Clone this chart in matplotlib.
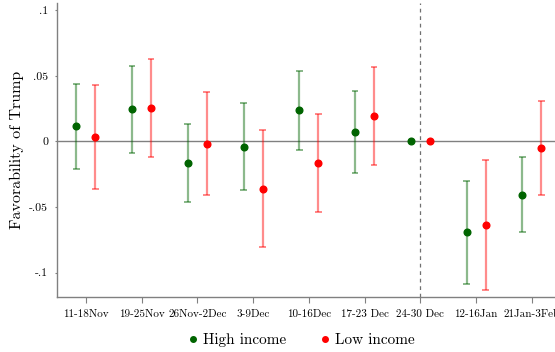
import numpy as np
import matplotlib
matplotlib.use('Agg')
import matplotlib.pyplot as plt
from matplotlib.lines import Line2D

plt.rcParams['font.family'] = ['cmr10', 'DejaVu Serif']
plt.rcParams['axes.unicode_minus'] = False

# semanas
semanas = ['11-18Nov', '19-25Nov', '26Nov-2Dec', '3-9Dec', '10-16Dec',
           '17-23 Dec', '24-30 Dec', '12-16Jan', '21Jan-3Feb']

# ingreso alto
alto = [0.0116, 0.0246, -0.0164, -0.0040, 0.0238, 0.0070, 0.0, -0.0693, -0.0406]
alto_sup = [0.0439, 0.0579, 0.0134, 0.0296, 0.0541, 0.0383, 0.0, -0.0299, -0.0118]
alto_inf = [-0.0208, -0.0090, -0.0464, -0.0373, -0.0067, -0.0240, 0.0, -0.1088, -0.0693]

# ingreso bajo
bajo = [0.0037, 0.0253, -0.0017, -0.0360, -0.0164, 0.0192, 0.0, -0.0635, -0.0052]
bajo_sup = [0.0431, 0.0630, 0.0380, 0.0085, 0.0208, 0.0566, 0.0, -0.0139, 0.0307]
bajo_inf = [-0.0363, -0.0121, -0.0408, -0.0808, -0.0538, -0.0179, 0.0, -0.1131, -0.0406]

y_ticks = [-0.1, -0.05, 0, 0.05, 0.1]
y_labels = ['-.1', '-.05', '0', '.05', '.1']

verde = '#006400'
rojo = '#ff0000'

x = np.arange(1, len(semanas) + 1)
dx = 0.17


def barras(ax, xs, inf, sup, color):
    # intervalos de confianza con topes, sin dibujar los de longitud cero
    xs = np.asarray(xs)
    inf = np.asarray(inf)
    sup = np.asarray(sup)
    m = sup != inf
    ax.vlines(xs[m], inf[m], sup[m], color=color, alpha=0.45, linewidth=1.6, zorder=2)
    ax.hlines(np.r_[inf[m], sup[m]], np.r_[xs[m], xs[m]] - 0.06, np.r_[xs[m], xs[m]] + 0.06,
              color=color, alpha=0.55, linewidth=1.2, zorder=2)


fig = plt.figure(figsize=(5.55, 3.52), dpi=100)
ax = fig.add_axes([57.3 / 555, 1 - 297 / 352, 502 / 555, 294 / 352])

ax.axhline(0, color='#808080', linewidth=1.0, zorder=1)
ax.axvline(7, color='#707070', linewidth=0.9, linestyle=(0, (3, 3)), zorder=1)

barras(ax, x - dx, alto_inf, alto_sup, verde)
barras(ax, x + dx, bajo_inf, bajo_sup, rojo)

ax.plot(x - dx, alto, 'o', color=verde, markersize=4.8, zorder=3)
ax.plot(x + dx, bajo, 'o', color=rojo, markersize=4.8, zorder=3)

ax.set_xlim(0.49, 9.49)
ax.set_ylim(-0.1187, 0.1057)
ax.set_xticks(x)
ax.set_xticklabels(semanas, fontsize=8)
ax.set_yticks(y_ticks)
ax.set_yticklabels(y_labels, fontsize=8.5)
ax.tick_params(axis='x', length=4, color='#808080', pad=5)
ax.tick_params(axis='y', length=1.5, color='#808080', pad=5)
ax.set_ylabel('Favorability of Trump', fontsize=11.5, labelpad=4)

for s in ['top', 'right']:
    ax.spines[s].set_visible(False)
for s in ['left', 'bottom']:
    ax.spines[s].set_color('#808080')
    ax.spines[s].set_linewidth(1.0)

leyenda = [Line2D([], [], marker='o', linestyle='', color=verde, markersize=4, label='High income'),
           Line2D([], [], marker='o', linestyle='', color=rojo, markersize=4, label='Low income')]
fig.legend(handles=leyenda, loc='center', bbox_to_anchor=(300 / 555, 1 - 340 / 352), ncol=2,
           frameon=False, fontsize=11, handletextpad=0.2, columnspacing=2.0, handlelength=1.0)

fig.savefig('out.png', dpi=100)
